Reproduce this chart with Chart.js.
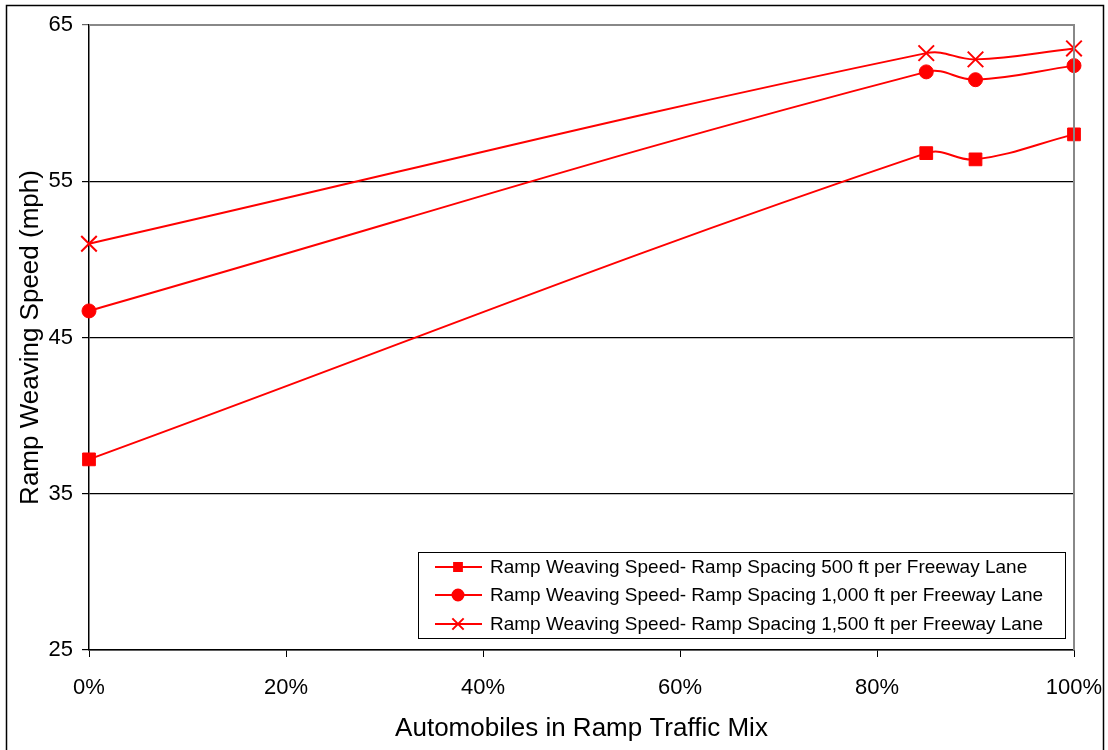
<!DOCTYPE html>
<html lang="en">
<head>
  <meta charset="utf-8">
  <title>Ramp Weaving Speed</title>
  <script src="https://cdn.jsdelivr.net/npm/chart.js@4.4.0/dist/chart.umd.min.js"></script>
  <style>
    body { margin: 0; background: #fff; }
  </style>
</head>
<body>
<canvas id="speedChart" width="1108" height="750"></canvas>
<script>

// values
var mixPct = [0, 85, 90, 100];
var speed500 = [37.2, 56.8, 56.4, 58.0];
var speed1000 = [46.7, 62.0, 61.5, 62.4];
var speed1500 = [51.0, 63.2, 62.8, 63.5];
var seriesNames = [
  'Ramp Weaving Speed- Ramp Spacing 500 ft per Freeway Lane',
  'Ramp Weaving Speed- Ramp Spacing 1,000 ft per Freeway Lane',
  'Ramp Weaving Speed- Ramp Spacing 1,500 ft per Freeway Lane'
];
var xTicks = [0, 20, 40, 60, 80, 100];
var yTicks = [25, 35, 45, 55, 65];

function toPoints(vals) {
  var pts = [];
  for (let i = 0; i < mixPct.length; i++) {
    pts.push({ x: mixPct[i], y: vals[i] });
  }
  return pts;
}

function makeSet(label, vals, style, radius) {
  return {
    label: label,
    data: toPoints(vals),
    borderColor: '#ff0000',
    backgroundColor: '#ff0000',
    borderWidth: 2,
    pointStyle: style,
    pointRadius: radius,
    pointBorderWidth: style === 'crossRot' ? 2 : 1,
    tension: 0.4,
    clip: false
  };
}

// frame, grey top/right plot border and the legend box inside the plot
var extras = {
  id: 'extras',
  afterDraw: function(chart) {
    var ctx = chart.ctx;
    var a = chart.chartArea;
    ctx.save();
    ctx.strokeStyle = '#000';
    ctx.lineWidth = 1.5;
    ctx.strokeRect(6.5, 5.5, 1097, 760);

    ctx.strokeStyle = '#888';
    ctx.lineWidth = 2;
    ctx.beginPath();
    ctx.moveTo(a.left, a.top);
    ctx.lineTo(a.right, a.top);
    ctx.lineTo(a.right, a.bottom);
    ctx.stroke();

    var bx = 418, by = 552, bw = 647, bh = 86;
    ctx.fillStyle = '#fff';
    ctx.fillRect(bx, by, bw, bh);
    ctx.strokeStyle = '#000';
    ctx.lineWidth = 1;
    ctx.strokeRect(bx + 0.5, by + 0.5, bw, bh);

    var rows = [567, 595, 624];
    ctx.font = '19px "Liberation Sans", Arial';
    ctx.textBaseline = 'middle';
    chart.data.datasets.forEach(function(ds, i) {
      var y = rows[i];
      ctx.strokeStyle = '#ff0000';
      ctx.fillStyle = '#ff0000';
      ctx.lineWidth = 2;
      ctx.beginPath();
      ctx.moveTo(435, y);
      ctx.lineTo(482, y);
      ctx.stroke();
      Chart.helpers.drawPoint(ctx, {
        pointStyle: ds.pointStyle,
        radius: ds.pointStyle === 'crossRot' ? 8 : 5.5,
        borderWidth: ds.pointStyle === 'crossRot' ? 2 : 1
      }, 458, y);
      ctx.fillStyle = '#000';
      ctx.fillText(ds.label, 490, y + 1);
    });
    ctx.restore();
  }
};

var ctx = document.getElementById('speedChart').getContext('2d');
var mychart = new Chart(ctx, {
  type: 'line',
  data: {
    datasets: [
      makeSet(seriesNames[0], speed500, 'rect', 9),
      makeSet(seriesNames[1], speed1000, 'circle', 7),
      makeSet(seriesNames[2], speed1500, 'crossRot', 11)
    ]
  },
  options: {
    responsive: false,
    animation: false,
    layout: { padding: { top: 25, right: 34, left: 0, bottom: 0 } },
    plugins: {
      legend: { display: false },
      tooltip: { enabled: false }
    },
    scales: {
      x: {
        type: 'linear',
        min: 0,
        max: 100,
        afterFit: function(s) {
          s.height = 100;
          s.paddingLeft = 0;
          s.paddingRight = 0;
        },
        afterBuildTicks: function(s) { s.ticks = xTicks.map(function(v) { return { value: v }; }); },
        ticks: {
          color: '#000',
          padding: 18,
          maxRotation: 0,
          font: { family: '"Liberation Sans", Arial', size: 22 },
          callback: function(v) { return v + '%'; }
        },
        grid: { drawOnChartArea: false, color: '#000', tickLength: 7 },
        border: { color: '#000', width: 1.5 },
        title: {
          display: true,
          text: 'Automobiles in Ramp Traffic Mix',
          color: '#000',
          font: { family: '"Liberation Sans", Arial', size: 26 },
          padding: { top: 0, bottom: 6 }
        }
      },
      y: {
        min: 25,
        max: 65,
        afterFit: function(s) {
          s.width = 89;
          s.paddingTop = 0;
          s.paddingBottom = 0;
        },
        afterBuildTicks: function(s) { s.ticks = yTicks.map(function(v) { return { value: v }; }); },
        ticks: {
          color: '#000',
          padding: 9,
          font: { family: '"Liberation Sans", Arial', size: 22 }
        },
        grid: {
          color: function(c) { return c.tick && c.tick.value === 65 ? '#666' : '#000'; },
          lineWidth: 1.2,
          tickLength: 7
        },
        border: { color: '#000', width: 1.5 },
        title: {
          display: true,
          text: 'Ramp Weaving Speed (mph)',
          color: '#000',
          font: { family: '"Liberation Sans", Arial', size: 26 },
          padding: { top: 15, bottom: 0 }
        }
      }
    }
  },
  plugins: [extras]
});

</script>
</body>
</html>
